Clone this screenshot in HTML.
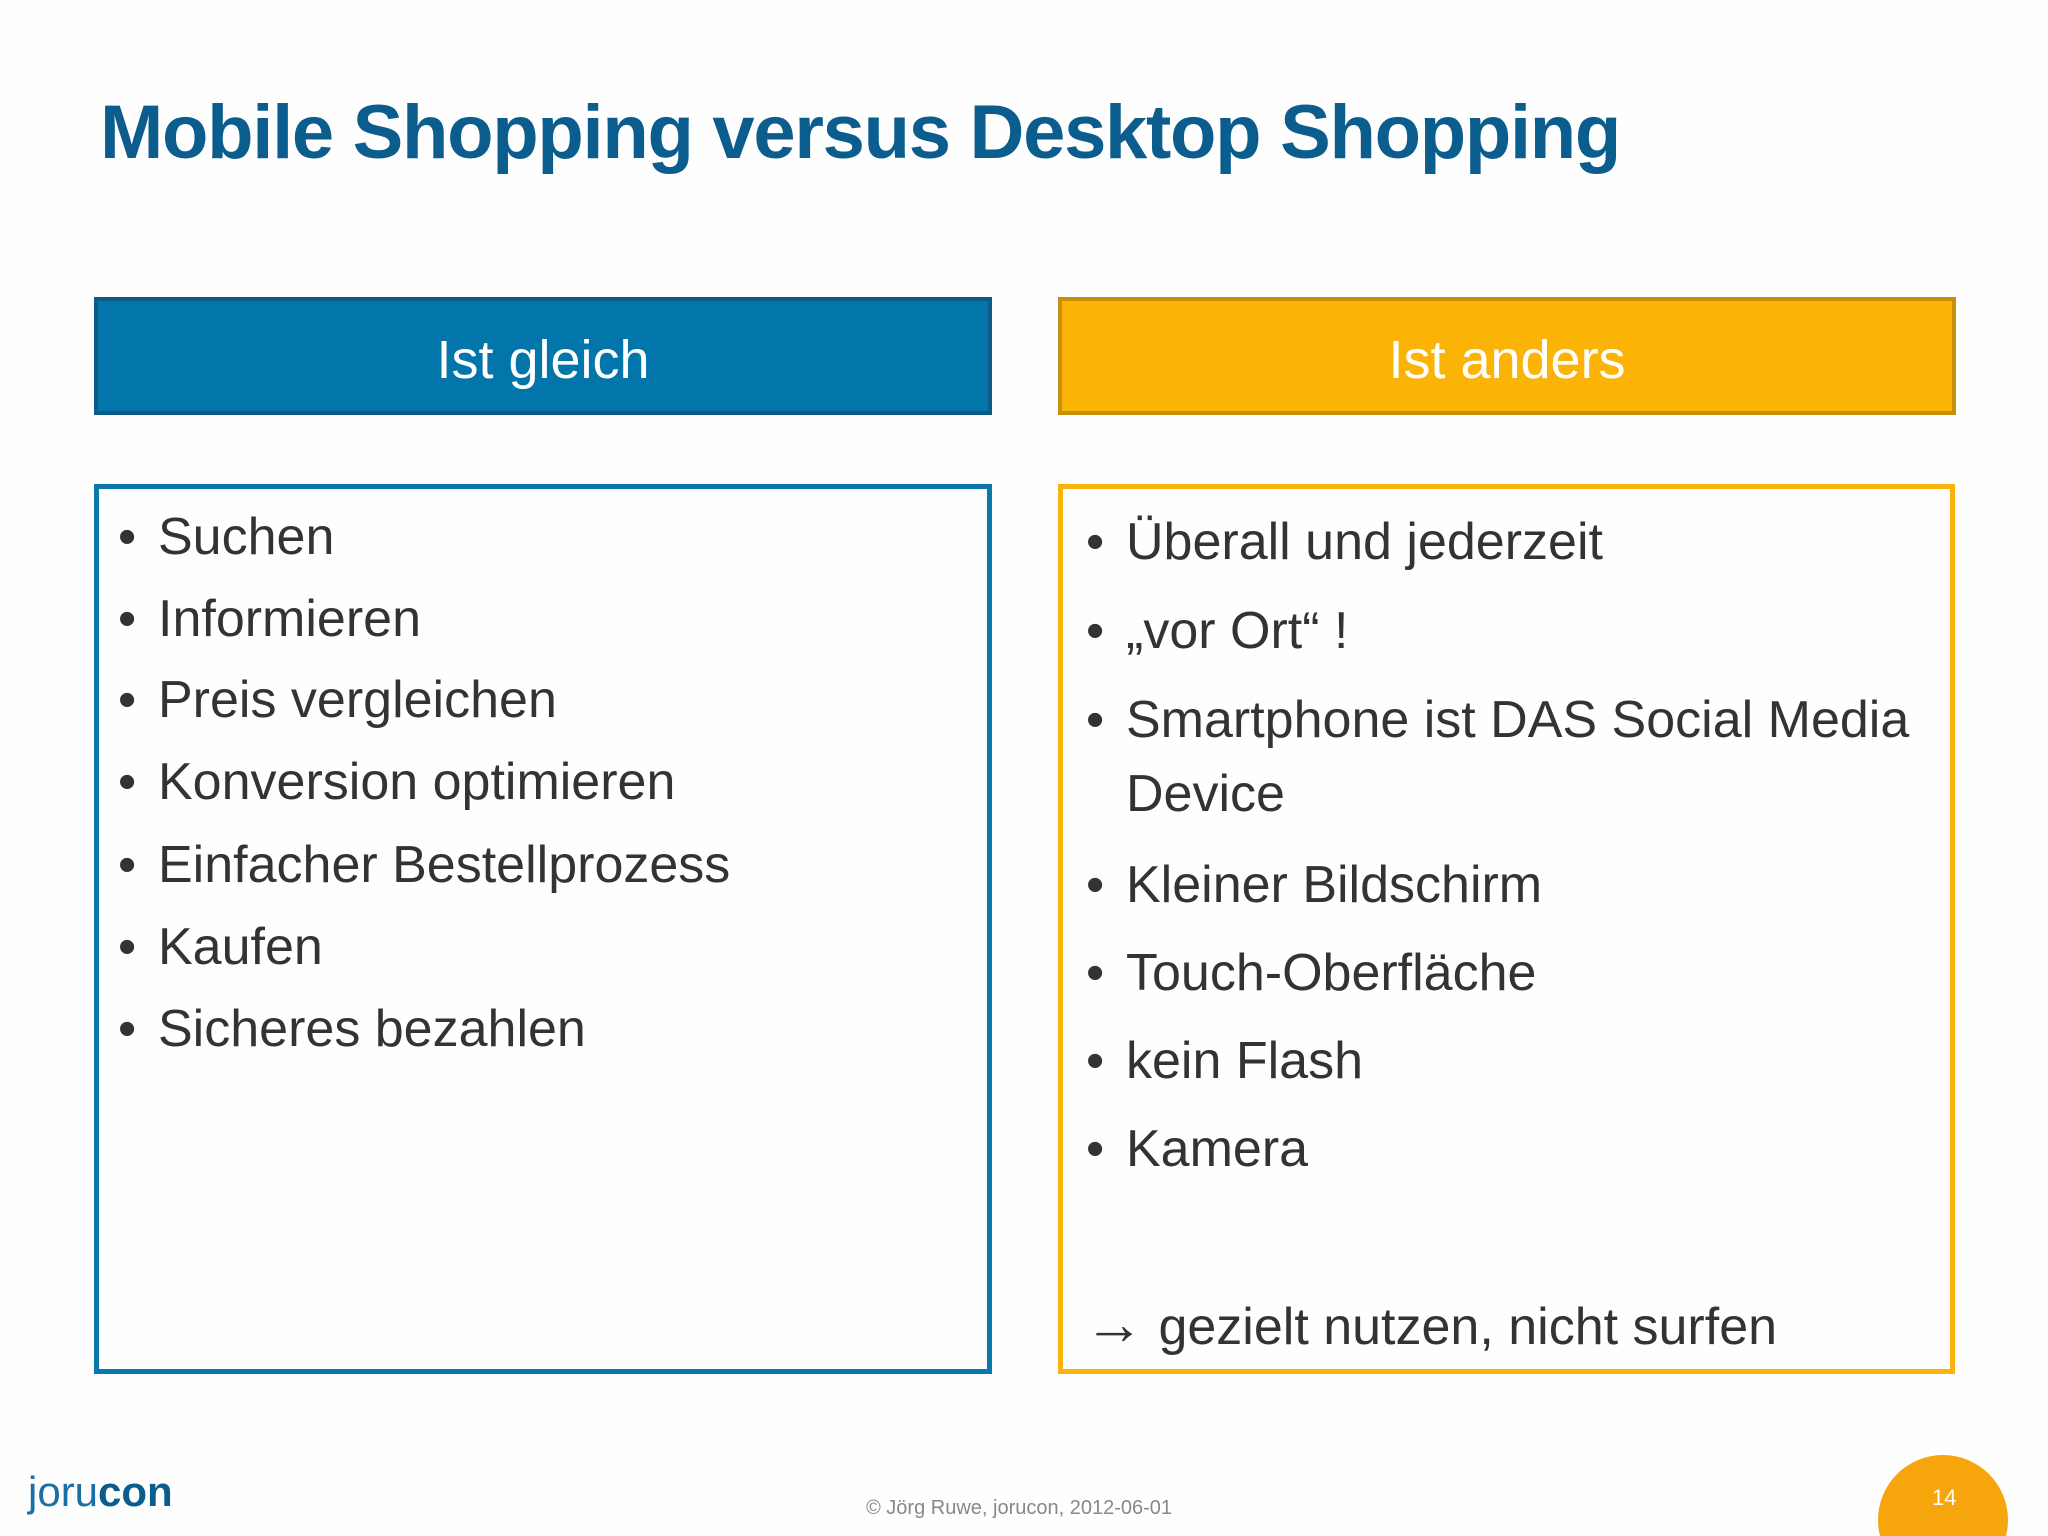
<!DOCTYPE html>
<html><head><meta charset="utf-8"><style>
html,body{margin:0;width:2048px;height:1536px;overflow:hidden;}
body{background:#fefefe;position:relative;font-family:"Liberation Sans",sans-serif;}
.a{position:absolute;}
.title{left:100px;top:89px;font-size:76px;font-weight:bold;color:#0b5d8e;letter-spacing:-1.3px;white-space:nowrap;}
.hdr{box-sizing:border-box;height:118px;top:297px;color:#fff;font-size:54px;display:flex;align-items:center;justify-content:center;padding-top:7px;}
.box{box-sizing:border-box;top:484px;height:890px;background:#fefefe;}
.it{font-size:52px;color:#333;white-space:nowrap;line-height:1;}
.it::before{content:"•";position:absolute;left:-40px;}
</style></head><body>
<div class="a title">Mobile Shopping versus Desktop Shopping</div>

<div class="a hdr" style="left:94px;width:898px;background:#0276aa;border:4px solid #0e5a86;">Ist gleich</div>
<div class="a hdr" style="left:1058px;width:898px;background:#fbb406;border:4px solid #c89008;">Ist anders</div>

<div class="a box" style="left:94px;width:898px;border:5px solid #0a77ad;"></div>
<div class="a box" style="left:1058px;width:897px;border:5px solid #f9b30a;"></div>

<div>
<div class="a it" style="left:158px;top:511px">Suchen</div>
<div class="a it" style="left:158px;top:593px">Informieren</div>
<div class="a it" style="left:158px;top:674px">Preis vergleichen</div>
<div class="a it" style="left:158px;top:756px">Konversion optimieren</div>
<div class="a it" style="left:158px;top:839px">Einfacher Bestellprozess</div>
<div class="a it" style="left:158px;top:921px">Kaufen</div>
<div class="a it" style="left:158px;top:1003px">Sicheres bezahlen</div>
</div>

<div>
<div class="a it" style="left:1126px;top:516px">Überall und jederzeit</div>
<div class="a it" style="left:1126px;top:605px">„vor Ort“ !</div>
<div class="a it" style="left:1126px;top:694px">Smartphone ist DAS Social Media</div>
<div class="a" style="left:1126px;top:768px;font-size:52px;color:#333;line-height:1;">Device</div>
<div class="a it" style="left:1126px;top:859px">Kleiner Bildschirm</div>
<div class="a it" style="left:1126px;top:947px">Touch-Oberfläche</div>
<div class="a it" style="left:1126px;top:1035px">kein Flash</div>
<div class="a it" style="left:1126px;top:1123px">Kamera</div>
<div class="a" style="left:1084px;top:1294px;font-size:52px;color:#333;line-height:1;white-space:nowrap;"><span style="font-size:60px;">→</span> gezielt nutzen, nicht surfen</div>
</div>

<div class="a" style="left:28px;top:1468px;font-size:42px;color:#1a6fa6;">joru<b style="color:#0b5d8e">con</b></div>
<div class="a" style="left:866px;top:1497px;font-size:20px;color:#888;">© Jörg Ruwe, jorucon, 2012-06-01</div>
<div class="a" style="left:1878px;top:1455px;width:130px;height:130px;border-radius:50%;background:#f7a50c;"></div>
<div class="a" style="left:1932px;top:1485px;font-size:22px;color:#fff;">14</div>
</body></html>
